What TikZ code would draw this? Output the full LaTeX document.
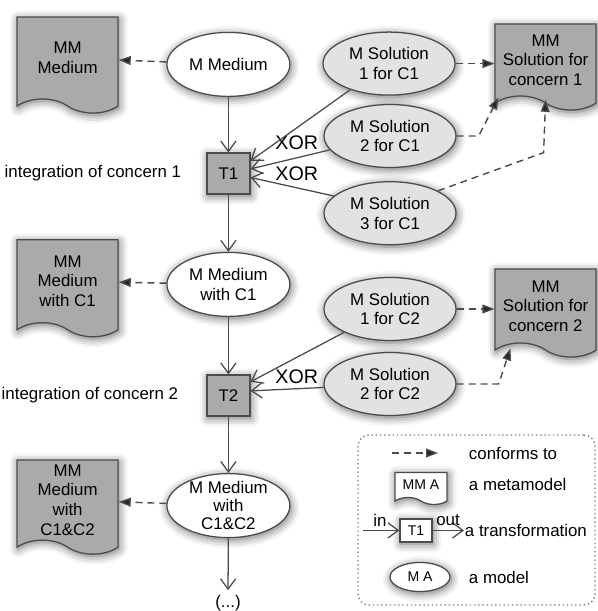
\documentclass[tikz,border=0pt]{standalone}
\usepackage{fontspec}
\setmainfont{Liberation Sans}
\usetikzlibrary{shapes.symbols, shapes.geometric, arrows.meta, positioning, calc, shadows.blur}
\definecolor{linegray}{RGB}{75, 75, 75}
\definecolor{docgray}{RGB}{170, 170, 170}
\definecolor{solgray}{RGB}{226, 226, 226}

\begin{document}
\begin{tikzpicture}[
  font=\fontsize{12}{14}\selectfont,
  softshadow/.style={blur shadow={shadow xshift=0.8pt, shadow yshift=-1.5pt, shadow blur radius=6pt, shadow opacity=60}},
  mmdoc/.style={shape=tape, tape bend top=none, tape bend bottom=out and in, tape bend height=10pt, draw=linegray, line width=0.9pt, fill=docgray, align=center, minimum width=2.525cm, softshadow},
  model/.style={ellipse, draw=linegray, line width=0.9pt, fill=white, align=center, minimum width=3.075cm, minimum height=1.6cm, inner sep=1pt, softshadow},
  solution/.style={model, fill=solgray, minimum width=3.3cm, minimum height=1.575cm},
  trafo/.style={rectangle, draw=linegray, line width=0.9pt, fill=docgray, minimum width=1.075cm, minimum height=1.025cm, softshadow},
  flow/.style={draw=linegray, line width=0.9pt, -{Straight Barb[length=2.6mm, width=3.8mm]}},
  conforms/.style={draw=linegray, line width=1pt, dash pattern=on 5pt off 3.5pt, -{Triangle[length=3mm, width=2.2mm, fill=black!85]}},
  xorlabel/.style={font=\fontsize{14}{16}\selectfont},
]
  \useasboundingbox (0,0) rectangle (14.925,-15.275);

  % concern 1
  \node[mmdoc, minimum height=2.4cm] (mmMedium) at (1.69,-1.45) {MM\\Medium};
  \node[model] (mMedium) at (5.71,-1.61) {M Medium};
  \node[solution] (sol1c1) at (9.725,-1.59) {M Solution\\1 for C1};
  \node[solution] (sol2c1) at (9.75,-3.4) {M Solution\\2 for C1};
  \node[solution] (sol3c1) at (9.75,-5.33) {M Solution\\3 for C1};
  \node[mmdoc, minimum height=2.15cm] (mmSol1) at (13.64,-1.5) {MM\\Solution for\\concern 1};
  \node[trafo] (t1) at (5.71,-4.34) {T1};
  \node[anchor=east] (integ1) at (4.65,-4.33) {integration of concern 1};
  \node[xorlabel] (xor1) at (7.42,-3.575) {XOR};
  \node[xorlabel] (xor2) at (7.42,-4.35) {XOR};

  \draw[conforms] (mMedium) -- (mmMedium);
  \draw[flow] (mMedium) -- (t1);
  \draw[flow] (sol1c1.214) -- (t1.30);
  \draw[flow] (sol2c1.193) -- (t1.12);
  \draw[flow] (sol3c1.163) -- (t1.-10);
  \draw[conforms] (sol1c1.east) -- (sol1c1.east -| mmSol1.west);
  \draw[conforms] (sol2c1.east) -- ++(0.55,0) -- ($(mmSol1.south west)+(0.1,-0.02)$);
  \draw[conforms] (sol3c1.25) -- ($(mmSol1.south)+(-0.05,-1.4)$) -- ($(mmSol1.south)+(0,-0.08)$);

  % concern 2
  \node[mmdoc, minimum height=2.425cm] (mmMediumC1) at (1.69,-7.03) {MM\\Medium\\with C1};
  \node[model] (mMediumC1) at (5.71,-7.11) {M Medium\\with C1};
  \node[solution] (sol1c2) at (9.75,-7.725) {M Solution\\1 for C2};
  \node[solution] (sol2c2) at (9.75,-9.6) {M Solution\\2 for C2};
  \node[mmdoc, minimum height=2.2cm] (mmSol2) at (13.64,-7.65) {MM\\Solution for\\concern 2};
  \node[trafo] (t2) at (5.71,-9.89) {T2};
  \node[anchor=east] (integ2) at (4.575,-9.89) {integration of concern 2};
  \node[xorlabel] (xor3) at (7.42,-9.425) {XOR};

  \draw[flow] (t1) -- (mMediumC1);
  \draw[conforms] (mMediumC1) -- (mmMediumC1);
  \draw[flow] (mMediumC1) -- (t2);
  \draw[flow] (sol1c2.207) -- (t2.32);
  \draw[flow] (sol2c2.183) -- (t2.12);
  \draw[conforms] (sol1c2.east) -- (sol1c2.east -| mmSol2.west);
  \draw[conforms] (sol2c2.east) -- ++(1.05,0) -- ($(mmSol2.south west)+(0.4,-0.12)$);

  % result
  \node[mmdoc, minimum height=2.35cm] (mmMediumC12) at (1.69,-12.5) {MM\\Medium\\with\\C1\&C2};
  \node[model, font=\fontsize{12}{13}\selectfont, inner ysep=-1.5pt] (mMediumC12) at (5.71,-12.64) {M Medium\\with\\C1\&C2};
  \node (etc) at (5.7,-15.075) {(...)};

  \draw[flow] (t2) -- (mMediumC12);
  \draw[conforms] (mMediumC12) -- (mmMediumC12);
  \draw[flow] (mMediumC12) -- (etc);

  % legend
  \node[draw=gray, dotted, line width=1pt, rounded corners=8pt, minimum width=5.925cm, minimum height=4.25cm] (legend) at (11.9125,-13.0) {};
  \coordinate (cfA) at (9.8,-11.325);
  \coordinate (cfB) at (10.95,-11.325);
  \draw[conforms] (cfA) -- (cfB);
  \node[anchor=west] (lconf) at (11.6,-11.325) {conforms to};
  \node[mmdoc, fill=white, font=\fontsize{10}{12}\selectfont, minimum width=1.3cm, minimum height=0.8cm, tape bend height=5pt] (lmeta) at (10.525,-12.125) {MM A};
  \node[anchor=west] (lmetatext) at (11.6,-12.1) {a metamodel};
  \node[trafo, fill=white, font=\fontsize{10}{12}\selectfont, minimum width=0.8cm, minimum height=0.575cm] (ltrafo) at (10.4,-13.26) {T1};
  \coordinate (lin) at (9.075,-13.26);
  \coordinate (lout) at (11.6,-13.26);
  \draw[flow] (lin) -- (ltrafo);
  \draw[flow] (ltrafo) -- (lout);
  \node (lintext) at (9.5,-13.0) {in};
  \node (louttext) at (11.2,-13.0) {out};
  \node[anchor=west] (ltrafotext) at (11.5,-13.26) {a transformation};
  \node[model, font=\fontsize{10}{12}\selectfont, minimum width=1.5cm, minimum height=0.725cm] (lmodel) at (10.5,-14.425) {M A};
  \node[anchor=west] (lmodeltext) at (11.6,-14.425) {a model};
\end{tikzpicture}
\end{document}
